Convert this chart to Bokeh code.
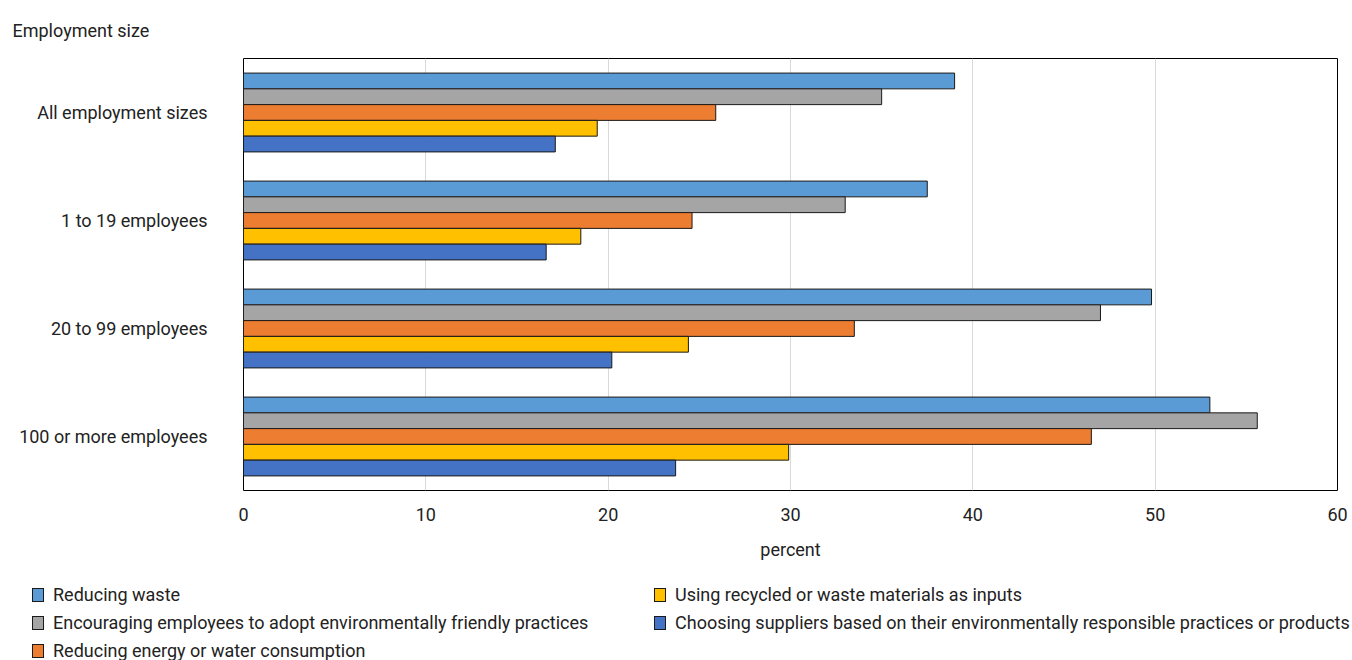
from bokeh.plotting import figure
from bokeh.layouts import column
from bokeh.models import FactorRange, Title, FixedTicker, Div
from bokeh.transform import dodge
from bokeh.embed import file_html
from bokeh.resources import INLINE

# Employment-size groups, listed from bottom to top of the chart
categories = ["100 or more employees", "20 to 99 employees", "1 to 19 employees", "All employment sizes"]

# Share of businesses (percent) per practice, same order as categories
reducing_waste = [53.0, 49.8, 37.5, 39.0]
encouraging_employees = [55.6, 47.0, 33.0, 35.0]
reducing_energy = [46.5, 33.5, 24.6, 25.9]
using_recycled = [29.9, 24.4, 18.5, 19.4]
choosing_suppliers = [23.7, 20.2, 16.6, 17.1]

series_names = [
    "Reducing waste",
    "Encouraging employees to adopt environmentally friendly practices",
    "Reducing energy or water consumption",
    "Using recycled or waste materials as inputs",
    "Choosing suppliers based on their environmentally responsible practices or products",
]
series_values = [reducing_waste, encouraging_employees, reducing_energy, using_recycled, choosing_suppliers]
colors = ["#5B9BD5", "#A5A5A5", "#ED7D31", "#FFC000", "#4472C4"]

x_ticks = [0, 10, 20, 30, 40, 50, 60]

FONT = "Roboto"
TEXT = "#222222"
FS = "18px"

MAIN_H = 575
p = figure(
    width=1352, height=MAIN_H,
    y_range=FactorRange(*categories, range_padding=0),
    x_range=(0, 60),
    output_backend="svg", toolbar_location=None,
    min_border_left=243, min_border_right=15, min_border_top=58,
    min_border_bottom=MAIN_H - 490,
)

bar_h = 0.146
offsets = [2 * bar_h, bar_h, 0.0, -bar_h, -2 * bar_h]
for name, vals, col, off in zip(series_names, series_values, colors, offsets):
    src = {"cat": categories, "val": vals}
    p.hbar(y=dodge("cat", off, range=p.y_range), left=0, right="val", height=bar_h,
           source=src, fill_color=col, line_color="#1a1a1a", line_width=1)

# Grid and frame
p.ygrid.grid_line_color = None
p.xgrid.grid_line_color = "#d9d9d9"
p.xgrid.grid_line_width = 1
p.outline_line_color = "#000000"
p.outline_line_width = 1
p.background_fill_color = "white"
p.border_fill_color = "white"

# X axis
p.xaxis.ticker = FixedTicker(ticks=x_ticks)
p.xaxis.axis_line_color = None
p.xaxis.major_tick_line_color = None
p.xaxis.minor_tick_line_color = None
p.xaxis.major_label_standoff = 11
p.xaxis.major_label_text_font = FONT
p.xaxis.major_label_text_font_size = FS
p.xaxis.major_label_text_color = TEXT
p.xaxis.axis_label = "percent"
p.xaxis.axis_label_text_font = FONT
p.xaxis.axis_label_text_font_size = FS
p.xaxis.axis_label_text_font_style = "normal"
p.xaxis.axis_label_text_color = TEXT
p.xaxis.axis_label_standoff = 15

# Y axis
p.yaxis.axis_line_color = None
p.yaxis.major_tick_line_color = None
p.yaxis.minor_tick_line_color = None
p.yaxis.major_label_standoff = 30
p.yaxis.major_label_text_font = FONT
p.yaxis.major_label_text_font_size = FS
p.yaxis.major_label_text_color = TEXT

# Axis title in the top-left corner
p.add_layout(Title(text="Employment size", align="left", offset=-231,
                   text_font=FONT, text_font_size=FS, text_font_style="normal",
                   text_color=TEXT, standoff=35), "above")

# Legend strip under the chart: two columns filled top to bottom
LEG_H = 660 - MAIN_H
col_x = [32, 32, 32, 654, 654]
row_y = [20, 48, 76, 20, 48]
entries = []
for name, col, x, y in zip(series_names, colors, col_x, row_y):
    entries.append(
        f'<div style="position:absolute; left:{x}px; top:{y - 11}px; height:22px; '
        f'line-height:22px; white-space:nowrap; font-family:{FONT}; font-size:{FS}; color:{TEXT};">'
        f'<span style="display:inline-block; width:12px; height:14px; box-sizing:border-box; '
        f'border:1px solid #1a1a1a; background:{col}; vertical-align:-1px; margin-right:9px;"></span>'
        f'{name}</div>'
    )
legend_div = Div(
    text=f'<div style="position:relative; width:1352px; height:{LEG_H}px; background:white;">'
         + "".join(entries) + "</div>",
    width=1352, height=LEG_H, margin=0,
)

open("out.html", "w").write(file_html(column(p, legend_div, spacing=0), INLINE))
